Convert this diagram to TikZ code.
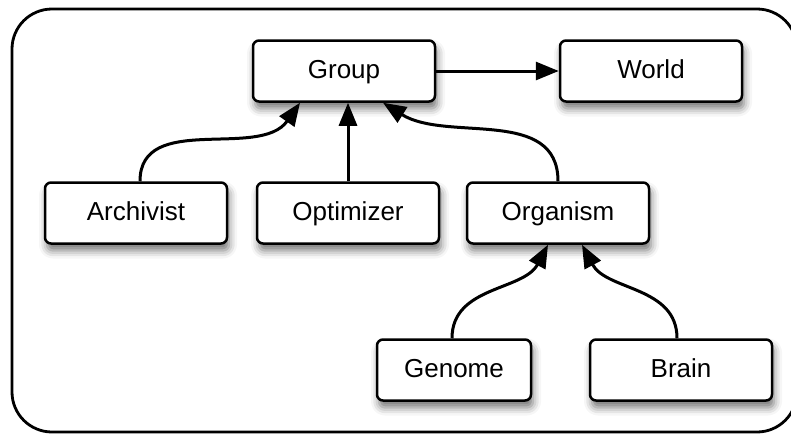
\documentclass[tikz,border=0pt]{standalone}
\usepackage{fontspec}
\setmainfont{Liberation Sans}
\usetikzlibrary{arrows.meta,shadows.blur}

\tikzset{
    box/.style={draw, line width=2.5pt, rounded corners=6pt, fill=white,
        minimum width=182pt, minimum height=61pt, inner sep=0pt,
        text height=19pt, text depth=5pt,
        font=\fontsize{26}{30}\selectfont,
        blur shadow={shadow xshift=2pt, shadow yshift=-7pt, shadow blur radius=8pt, shadow opacity=55}},
    link/.style={-{Triangle[length=23pt,width=18pt]}, line width=3pt}
}

\begin{document}
\begin{tikzpicture}[x=1pt, y=1pt]

    \useasboundingbox (0,0) rectangle (791,-434);

    %frame
    \draw[line width=2.8pt, rounded corners=40pt] (12,-9) rectangle (797,-432);

    %top row
    \node[box] (group) at (344,-71) {Group};
    \node[box] (world) at (651,-71) {World};

    %middle row
    \node[box] (archivist) at (136,-213) {Archivist};
    \node[box] (optimizer) at (348,-213) {Optimizer};
    \node[box] (organism) at (558,-213) {Organism};

    %bottom row
    \node[box, minimum width=154pt] (genome) at (454,-370) {Genome};
    \node[box] (brain) at (681,-370) {Brain};

    %links
    \draw[link] (group) -- (world);
    \draw[link] ([xshift=4pt]archivist.north) to[out=90, in=-125] ([xshift=-44pt]group.south);
    \draw[link] (optimizer.north) -- (optimizer.north |- group.south);
    \draw[link] (organism.north) to[out=90, in=-32] ([xshift=39pt]group.south);
    \draw[link] ([xshift=-2pt]genome.north) to[out=90, in=-118] ([xshift=-10pt]organism.south);
    \draw[link] ([xshift=-4pt]brain.north) to[out=90, in=-62] ([xshift=24pt]organism.south);

\end{tikzpicture}
\end{document}
